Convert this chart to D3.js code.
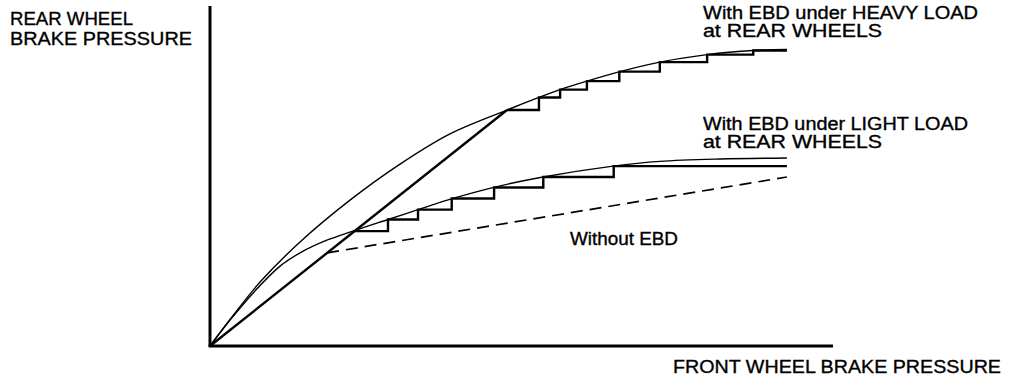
<!DOCTYPE html>
<html>
<head>
  <script src="https://d3js.org/d3.v7.min.js"></script>
  <style>
    body { margin: 0; background: #fff; }
    text { font-family: "Liberation Sans", Arial, sans-serif; font-size: 18px; fill: #000; stroke: #000; stroke-width: 0.35px; }
  </style>
</head>
<body>
  <div id="chart"></div>
  <script>

  // front wheel pressure (x) / rear wheel pressure (y), relative units 0-100
  var heavyIdeal = [
    [0, 0], [3.21, 7.8], [8.03, 18.8], [14.45, 30.6], [22.47, 42.9], [30.5, 53.5],
    [38.52, 62.4], [47.67, 69.4], [52.8, 73.1], [56.18, 75.4], [60.5, 77.9],
    [65.8, 80.7], [72.2, 83.5], [79.8, 85.7], [87.2, 86.9], [92.6, 87.2]
  ];

  var lightIdeal = [
    [0, 0], [3.21, 7.6], [7.22, 16.2], [11.24, 23.5], [14.45, 27.4], [18.46, 30.9],
    [22.95, 33.8], [28.57, 37.2], [33.39, 40.1], [39.0, 43.4], [45.4, 46.6],
    [53.45, 49.7], [64.7, 52.9], [72.2, 54.3], [81.9, 55.0], [92.6, 55.3]
  ];

  // EBD control: straight rise, then staircase
  var ebdRise = [[0, 0], [47.67, 69.4]];

  var heavySteps = [
    [47.67, 69.4], [52.8, 73.1], [56.2, 75.4], [60.5, 77.9], [65.7, 80.7],
    [72.2, 83.5], [79.8, 85.7], [87.2, 86.9], [92.6, 86.9]
  ];

  var lightSteps = [
    [22.95, 33.8], [28.57, 37.2], [33.39, 40.1], [38.8, 43.4], [45.6, 46.6],
    [53.5, 49.7], [64.8, 52.9], [92.6, 52.9]
  ];

  var withoutEbd = [[18.8, 27.4], [92.6, 49.7]];

  var width = 1024,
      height = 384;

  var svg = d3.select("#chart").append("svg")
    .attr("width", width)
    .attr("height", height);

  var x = d3.scaleLinear().domain([0, 100]).range([210, 833]);
  var y = d3.scaleLinear().domain([0, 100]).range([346, 6]);

  var curve = d3.line()
    .x(function(d) { return x(d[0]); })
    .y(function(d) { return y(d[1]); })
    .curve(d3.curveCatmullRom.alpha(0.5));

  var straight = d3.line()
    .x(function(d) { return x(d[0]); })
    .y(function(d) { return y(d[1]); });

  var steps = d3.line()
    .x(function(d) { return x(d[0]); })
    .y(function(d) { return y(d[1]); })
    .curve(d3.curveStepAfter);

  // axes (plain lines, no ticks)
  svg.append("line")
    .attr("x1", x(0)).attr("y1", y(0))
    .attr("x2", x(0)).attr("y2", y(100))
    .attr("stroke", "#000").attr("stroke-width", 3);

  svg.append("line")
    .attr("x1", x(0) - 1.5).attr("y1", y(0))
    .attr("x2", x(100)).attr("y2", y(0))
    .attr("stroke", "#000").attr("stroke-width", 3);

  // ideal distribution curves
  [heavyIdeal, lightIdeal].forEach(function(data) {
    svg.append("path")
      .datum(data)
      .attr("d", curve)
      .attr("fill", "none")
      .attr("stroke", "#000")
      .attr("stroke-width", 1.4);
  });

  svg.append("path")
    .datum(ebdRise)
    .attr("d", straight)
    .attr("fill", "none")
    .attr("stroke", "#000")
    .attr("stroke-width", 2.4);

  [heavySteps, lightSteps].forEach(function(data) {
    svg.append("path")
      .datum(data)
      .attr("d", steps)
      .attr("fill", "none")
      .attr("stroke", "#000")
      .attr("stroke-width", 2.4)
      .attr("stroke-linejoin", "miter");
  });

  svg.append("path")
    .datum(withoutEbd)
    .attr("d", straight)
    .attr("fill", "none")
    .attr("stroke", "#000")
    .attr("stroke-width", 1.7)
    .attr("stroke-dasharray", "12,7");

  // labels
  var labels = [
    { t: "REAR WHEEL", x: 10, y: 25, w: 123 },
    { t: "BRAKE PRESSURE", x: 10, y: 45, w: 182 },
    { t: "With EBD under HEAVY LOAD", x: 703, y: 19, w: 275 },
    { t: "at REAR WHEELS", x: 703, y: 37, w: 179 },
    { t: "With EBD under LIGHT LOAD", x: 703, y: 130, w: 265 },
    { t: "at REAR WHEELS", x: 703, y: 148, w: 179 },
    { t: "Without EBD", x: 570, y: 245, w: 108 },
    { t: "FRONT WHEEL BRAKE PRESSURE", x: 673, y: 373, w: 328 }
  ];

  svg.selectAll("text.lbl")
    .data(labels)
    .enter()
    .append("text")
    .attr("class", "lbl")
    .attr("x", function(d) { return d.x; })
    .attr("y", function(d) { return d.y; })
    .attr("textLength", function(d) { return d.w; })
    .attr("lengthAdjust", "spacingAndGlyphs")
    .text(function(d) { return d.t; });

  </script>
</body>
</html>
